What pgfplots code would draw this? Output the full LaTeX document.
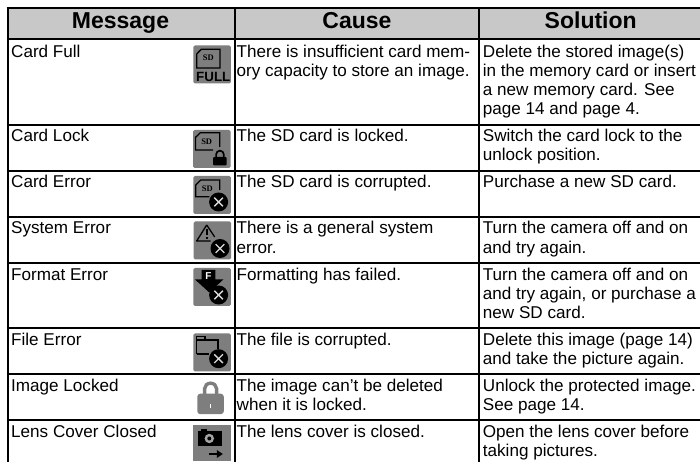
\documentclass[border=0pt]{standalone}
\usepackage{pgfplots}
\pgfplotsset{compat=1.18}
\usepackage{fontspec}
\setmainfont{Liberation Sans}
\newfontfamily\serifb{Liberation Serif}
\definecolor{hdr}{HTML}{C8C8C8}
\definecolor{icon}{HTML}{7E7E7E}
\newcommand{\Tx}[3]{\node[anchor=base west,inner sep=0pt,font=\fontsize{17.1}{19}\selectfont] at (axis cs:#1,#2) {#3};}
\newcommand{\Hd}[3]{\node[anchor=base,inner sep=0pt,font=\fontsize{23}{24}\selectfont\bfseries] at (axis cs:#1,#2) {#3};}
% icon placement: local coordinates in pixels, y downward
\tikzset{ic/.style 2 args={shift={(#1pt,462pt-#2pt)},yscale=-1,x=1pt,y=1pt}}
\newcommand{\icbg}{\fill[icon,rounded corners=1.5pt] (0,0) rectangle (37.5,38);}
\newcommand{\icex}[2]{\fill[black] (#1,#2) circle (9.5);
  \draw[white!85!black,line width=1.3pt] (#1-4.3,#2-4.3) -- (#1+4.3,#2+4.3) (#1-4.3,#2+4.3) -- (#1+4.3,#2-4.3);}
\newcommand{\icsd}[2]{\node[inner sep=0pt,font=\serifb\bfseries\fontsize{8.5}{9}\selectfont] at (#1,#2) {SD};}
\begin{document}
\begin{tikzpicture}
\path[use as bounding box] (0,0) rectangle (700pt,462pt);
\begin{axis}[at={(0,0)},anchor=south west,width=700pt,height=462pt,scale only axis,
  xmin=0,xmax=700,ymin=0,ymax=462,y dir=reverse,axis lines=none,clip=true]
\addplot[fill=hdr,draw=none,no marks] coordinates {(7.5,8) (700,8) (700,39.5) (7.5,39.5)} --cycle;
% horizontal rules
\addplot[black,line width=2pt,no marks] coordinates {(6.5,8) (700,8)};
\addplot[black,line width=2pt,no marks] coordinates {(6.5,39.5) (700,39.5)};
\addplot[black,line width=2pt,no marks] coordinates {(6.5,125) (700,125)};
\addplot[black,line width=2pt,no marks] coordinates {(6.5,170.8) (700,170.8)};
\addplot[black,line width=2pt,no marks] coordinates {(6.5,216.8) (700,216.8)};
\addplot[black,line width=2pt,no marks] coordinates {(6.5,262.7) (700,262.7)};
\addplot[black,line width=2pt,no marks] coordinates {(6.5,327.7) (700,327.7)};
\addplot[black,line width=2pt,no marks] coordinates {(6.5,374) (700,374)};
\addplot[black,line width=2pt,no marks] coordinates {(6.5,420) (700,420)};
% vertical rules
\addplot[black,line width=2pt,no marks] coordinates {(7.5,7) (7.5,462)};
\addplot[black,line width=2pt,no marks] coordinates {(234.5,7) (234.5,462)};
\addplot[black,line width=2pt,no marks] coordinates {(479,7) (479,462)};
% headers
\Hd{120.5}{28.3}{Message}
\Hd{357}{28.3}{Cause}
\Hd{590.7}{28.3}{Solution}
% column 1
\Tx{11}{57.3}{Card Full}
\Tx{11}{141.7}{Card Lock}
\Tx{11}{187.5}{Card Error}
\Tx{11}{233.5}{System Error}
\Tx{11}{280}{Format Error}
\Tx{11}{345}{File Error}
\Tx{11}{391}{Image Locked}
\Tx{11}{437.3}{Lens Cover Closed}
% column 2
\Tx{236.5}{57.3}{There is insufficient card mem-}
\Tx{236.5}{76.3}{ory capacity to store an image.}
\Tx{236.5}{141.7}{The SD card is locked.}
\Tx{236.5}{187.5}{The SD card is corrupted.}
\Tx{236.5}{233.5}{There is a general system}
\Tx{236.5}{253}{error.}
\Tx{236.5}{280}{Formatting has failed.}
\Tx{236.5}{345}{The file is corrupted.}
\Tx{236.5}{391}{The image can’t be deleted}
\Tx{236.5}{410}{when it is locked.}
\Tx{236.5}{437.3}{The lens cover is closed.}
% column 3
\Tx{482.7}{57.3}{Delete the stored image(s)}
\Tx{482.7}{76.3}{in the memory card or insert}
\Tx{482.7}{95.5}{a new memory card. See}
\Tx{482.7}{114.7}{page 14 and page 4.}
\Tx{482.7}{141.7}{Switch the card lock to the}
\Tx{482.7}{161}{unlock position.}
\Tx{482.7}{187.5}{Purchase a new SD card.}
\Tx{482.7}{233.5}{Turn the camera off and on}
\Tx{482.7}{253}{and try again.}
\Tx{482.7}{280}{Turn the camera off and on}
\Tx{482.7}{299}{and try again, or purchase a}
\Tx{482.7}{318.5}{new SD card.}
\Tx{482.7}{345}{Delete this image (page 14)}
\Tx{482.7}{364.3}{and take the picture again.}
\Tx{482.7}{391}{Unlock the protected image.}
\Tx{482.7}{410}{See page 14.}
\Tx{482.7}{437.3}{Open the lens cover before}
\Tx{482.7}{456.7}{taking pictures.}
\end{axis}
% Card Full icon
\begin{scope}[ic={193.3}{45.5}]
\icbg
\draw[black,line width=1.3pt] (8,3.8) -- (26.7,3.8) -- (26.7,22.5) -- (3.4,22.5) -- (3.4,8.5) -- cycle;
\icsd{15}{12}
\node[inner sep=0pt,font=\bfseries\fontsize{13.4}{14}\selectfont] at (20,31) {FULL};
\end{scope}
% Card Lock icon
\begin{scope}[ic={193.2}{130}]
\icbg
\draw[black,line width=1.3pt] (26.5,17) -- (26.5,2.8) -- (7,2.8) -- (2.2,7.5) -- (2.2,20) -- (20,20);
\icsd{13.5}{11.7}
\fill[black,rounded corners=1pt] (20,27) rectangle (33.5,35.5);
\draw[black,line width=1.7pt] (22.9,27.5) -- (22.9,24.5) arc (180:360:3.85) -- (30.6,27.5);
\end{scope}
% Card Error icon
\begin{scope}[ic={193.3}{176}]
\icbg
\draw[black,line width=1.3pt] (26.5,14) -- (26.5,4) -- (7.5,4) -- (2.5,9) -- (2.5,20.7) -- (16,20.7);
\icsd{14}{12.3}
\icex{25.3}{26}
\end{scope}
% System Error icon
\begin{scope}[ic={193.7}{221.5}]
\icbg
\draw[black,line width=1.3pt,line join=round] (13,3.5) -- (3,19.5) -- (17,19.5) (13,3.5) -- (21,15.5);
\fill[black] (12,7.5) rectangle (14.2,14);
\fill[black] (12,15.3) rectangle (14.2,17.5);
\icex{26.3}{27}
\end{scope}
% Format Error icon
\begin{scope}[ic={193.3}{268}]
\icbg
\fill[black] (8.3,2) -- (22,2) -- (22,11.5) -- (30,11.5) -- (16,24.5) -- (1.7,11.5) -- (8.3,11.5) -- cycle;
\node[white,inner sep=0pt,font=\bfseries\fontsize{10}{11}\selectfont] at (15,8.5) {F};
\icex{25.3}{27}
\end{scope}
% File Error icon
\begin{scope}[ic={193.3}{333.5}]
\icbg
\draw[black,line width=1.3pt] (3.4,20.5) -- (3.4,3.2) -- (11.7,3.2) -- (11.7,6.5) -- (24.7,6.5) -- (24.7,16);
\draw[black,line width=1.3pt] (3.4,6.5) -- (11.7,6.5);
\draw[black,line width=1.3pt] (3.4,20.5) -- (16,20.5);
\icex{25.3}{25.2}
\end{scope}
% Image Locked icon
\begin{scope}[ic={197.3}{380.7}]
\fill[icon,rounded corners=3pt] (0,13) rectangle (26.5,33.5);
\draw[icon,line width=3.4pt] (7.3,14) -- (7.3,8) arc (180:360:6 and 5.5) -- (19.3,14);
\fill[white] (12.5,23.5) rectangle (14,27);
\end{scope}
% Lens Cover icon
\begin{scope}[ic={193.3}{425}]
\fill[icon] (0,0) rectangle (37.5,36.5);
\fill[black] (5,6.5) rectangle (28.5,21);
\fill[black] (8,4.5) rectangle (14,8);
\fill[icon!70!white] (16,13.5) circle (4.7);
\fill[black] (16,13.5) circle (2);
\fill[black] (15.5,28) rectangle (23.5,30);
\fill[black] (23.5,25) -- (29.5,29) -- (23.5,33) -- cycle;
\end{scope}
\end{tikzpicture}
\end{document}
